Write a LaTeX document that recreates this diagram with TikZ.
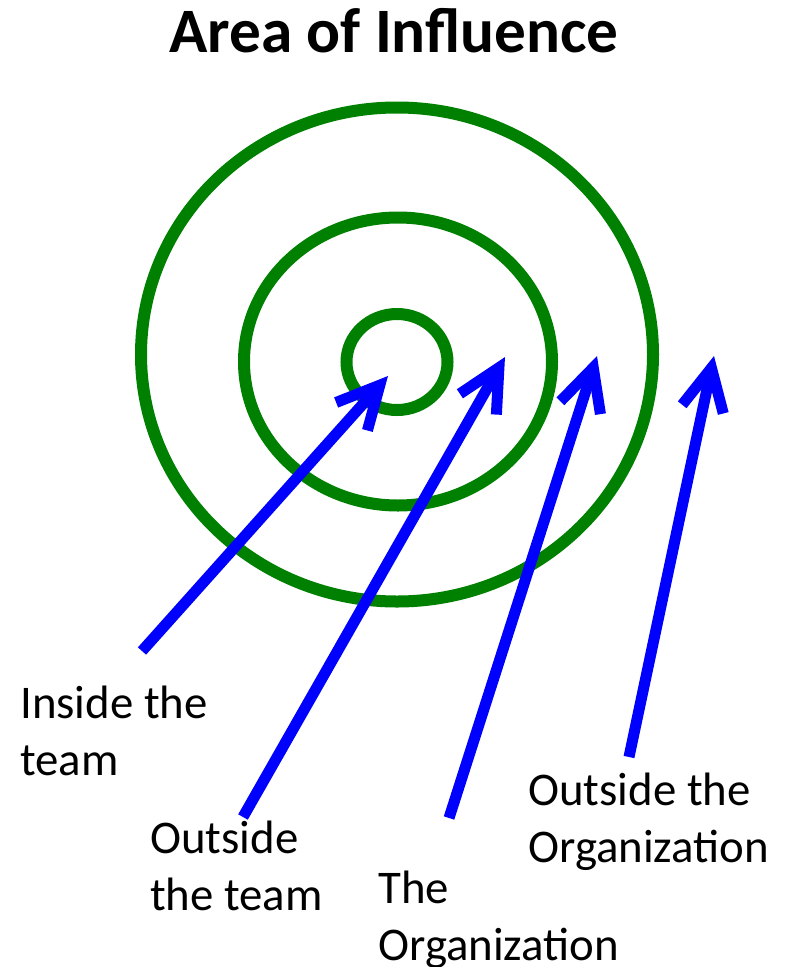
\documentclass[tikz,border=0pt]{standalone}
\usepackage{fontspec}
\setmainfont{Carlito}
\usetikzlibrary{arrows.meta}
\definecolor{ringgreen}{HTML}{008000}
\definecolor{arrowblue}{HTML}{0000FF}

\begin{document}
\begin{tikzpicture}[
      x=0.025cm, y=-0.025cm,
      ring/.style={draw=ringgreen, line width=0.3cm},
      arr/.style={-{Straight Barb[length=1.05cm, width=1.05cm]},
                  line width=0.275cm, draw=arrowblue},
      lbl/.style={anchor=base west, inner sep=0pt, align=left,
                  font=\fontsize{33.3}{40.5}\selectfont},
      heading/.style={anchor=base, inner sep=0pt,
                      font=\fontsize{45}{54}\selectfont\bfseries}
    ]
    \useasboundingbox (0,0) rectangle (786,967);
    \node[heading] (title) at (394,52) {Area of Influence};

    \draw[ring] (397,354.5) ellipse [x radius=256, y radius=247];
    \draw[ring] (398,361.5) ellipse [x radius=154, y radius=144];
    \draw[ring] (397,362) ellipse [x radius=50.5, y radius=48];

    % base anchor sits on the last line
    \node[lbl] (inside) at (20,775) {Inside the\\team};
    \node[lbl] (outteam) at (150,910) {Outside\\the team};
    \node[lbl] (org) at (378,960) {The\\Organization};
    \node[lbl] (outorg) at (528,862) {Outside the\\Organization};

    \coordinate (insideTail) at (142,651);
    \coordinate (insideTip) at (388,376);
    \coordinate (outteamTail) at (243,817);
    \coordinate (outteamTip) at (505,357);
    \coordinate (orgTail) at (449,818);
    \coordinate (orgTip) at (597,356);
    \coordinate (outorgTail) at (629,757);
    \coordinate (outorgTip) at (714,356);

    \draw[arr] (insideTail) -- (insideTip);
    \draw[arr] (outteamTail) -- (outteamTip);
    \draw[arr] (orgTail) -- (orgTip);
    \draw[arr] (outorgTail) -- (outorgTip);
  \end{tikzpicture}
\end{document}
